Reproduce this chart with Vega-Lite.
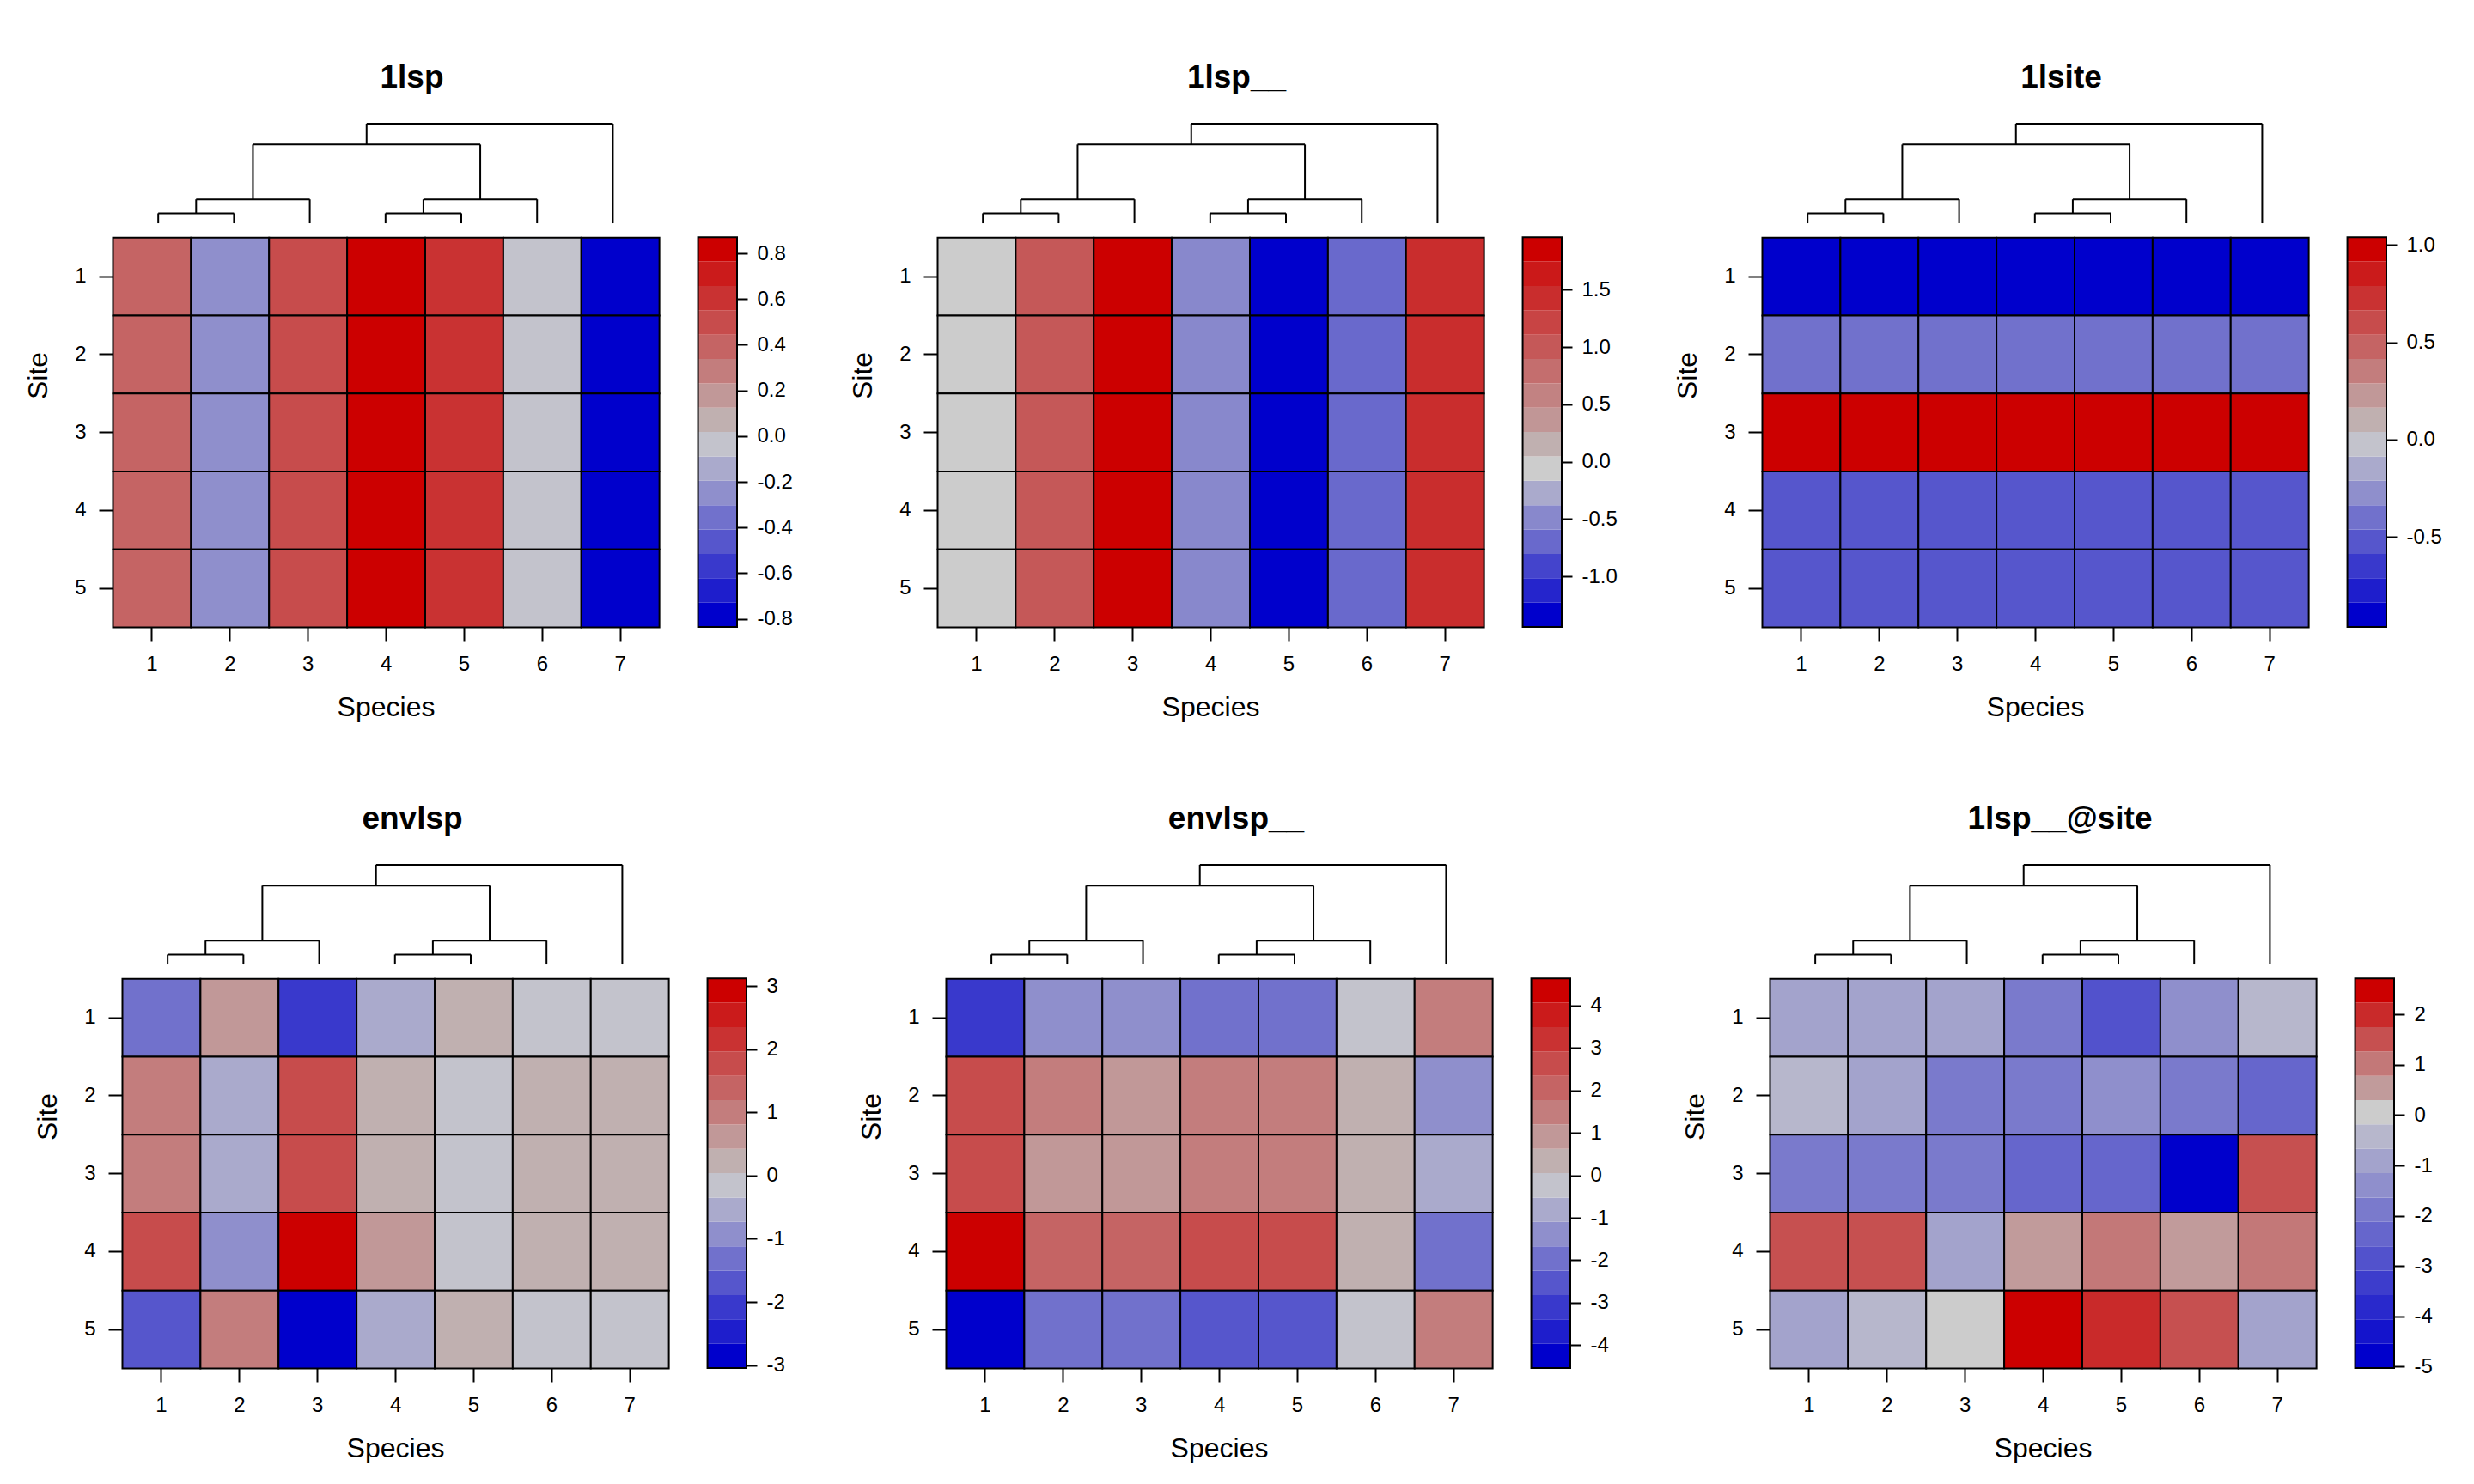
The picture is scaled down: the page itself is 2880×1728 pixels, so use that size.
{
"$schema": "https://vega.github.io/schema/vega-lite/v6.json",
"background": "white",
"padding": {"left": 28, "top": 72, "right": 5, "bottom": 5},
"config": {
 "font": "Liberation Sans",
 "view": {"stroke": null},
 "locale": {"number": {"decimal": ".", "thousands": ",", "grouping": [3], "currency": ["$", ""], "minus": "-"}},
 "axis": {"domain": false, "grid": false, "tickColor": "#000", "tickWidth": 2, "tickSize": 16, "labelFontSize": 24, "labelColor": "#000", "labelPadding": 15, "titleFontSize": 32, "titleFontWeight": "normal", "titleColor": "#000", "labelFont": "Liberation Sans", "titleFont": "Liberation Sans", "labelOverlap": false},
 "axisX": {"titlePadding": 23},
 "axisY": {"titlePadding": 25},
 "title": {"fontSize": 37, "fontWeight": "bold", "font": "Liberation Sans", "color": "#000", "offset": 33},
 "rect": {"binSpacing": 0}
},
"datasets": {
 "dendro": [{"x":1,"x2":1,"h":0,"h2":0.1},{"x":2,"x2":2,"h":0,"h2":0.1},{"x":1,"x2":2,"h":0.1,"h2":0.1},{"x":1.5,"x2":1.5,"h":0.1,"h2":0.24},{"x":3,"x2":3,"h":0,"h2":0.24},{"x":1.5,"x2":3,"h":0.24,"h2":0.24},{"x":2.25,"x2":2.25,"h":0.24,"h2":0.79},{"x":4,"x2":4,"h":0,"h2":0.1},{"x":5,"x2":5,"h":0,"h2":0.1},{"x":4,"x2":5,"h":0.1,"h2":0.1},{"x":4.5,"x2":4.5,"h":0.1,"h2":0.24},{"x":6,"x2":6,"h":0,"h2":0.24},{"x":4.5,"x2":6,"h":0.24,"h2":0.24},{"x":5.25,"x2":5.25,"h":0.24,"h2":0.79},{"x":2.25,"x2":5.25,"h":0.79,"h2":0.79},{"x":3.75,"x2":3.75,"h":0.79,"h2":1},{"x":7,"x2":7,"h":0,"h2":1},{"x":3.75,"x2":7,"h":1,"h2":1}],
 "p1": [
  {"site":1,"sp":1,"v":0.39},{"site":1,"sp":2,"v":-0.25},{"site":1,"sp":3,"v":0.5},{"site":1,"sp":4,"v":0.87},{"site":1,"sp":5,"v":0.6},{"site":1,"sp":6,"v":-0.04},{"site":1,"sp":7,"v":-0.83},
  {"site":2,"sp":1,"v":0.39},{"site":2,"sp":2,"v":-0.25},{"site":2,"sp":3,"v":0.5},{"site":2,"sp":4,"v":0.87},{"site":2,"sp":5,"v":0.6},{"site":2,"sp":6,"v":-0.04},{"site":2,"sp":7,"v":-0.83},
  {"site":3,"sp":1,"v":0.39},{"site":3,"sp":2,"v":-0.25},{"site":3,"sp":3,"v":0.5},{"site":3,"sp":4,"v":0.87},{"site":3,"sp":5,"v":0.6},{"site":3,"sp":6,"v":-0.04},{"site":3,"sp":7,"v":-0.83},
  {"site":4,"sp":1,"v":0.39},{"site":4,"sp":2,"v":-0.25},{"site":4,"sp":3,"v":0.5},{"site":4,"sp":4,"v":0.87},{"site":4,"sp":5,"v":0.6},{"site":4,"sp":6,"v":-0.04},{"site":4,"sp":7,"v":-0.83},
  {"site":5,"sp":1,"v":0.39},{"site":5,"sp":2,"v":-0.25},{"site":5,"sp":3,"v":0.5},{"site":5,"sp":4,"v":0.87},{"site":5,"sp":5,"v":0.6},{"site":5,"sp":6,"v":-0.04},{"site":5,"sp":7,"v":-0.83}],
 "p2": [
  {"site":1,"sp":1,"v":-0.06},{"site":1,"sp":2,"v":1.0},{"site":1,"sp":3,"v":1.95},{"site":1,"sp":4,"v":-0.48},{"site":1,"sp":5,"v":-1.44},{"site":1,"sp":6,"v":-0.7},{"site":1,"sp":7,"v":1.43},
  {"site":2,"sp":1,"v":-0.06},{"site":2,"sp":2,"v":1.0},{"site":2,"sp":3,"v":1.95},{"site":2,"sp":4,"v":-0.48},{"site":2,"sp":5,"v":-1.44},{"site":2,"sp":6,"v":-0.7},{"site":2,"sp":7,"v":1.43},
  {"site":3,"sp":1,"v":-0.06},{"site":3,"sp":2,"v":1.0},{"site":3,"sp":3,"v":1.95},{"site":3,"sp":4,"v":-0.48},{"site":3,"sp":5,"v":-1.44},{"site":3,"sp":6,"v":-0.7},{"site":3,"sp":7,"v":1.43},
  {"site":4,"sp":1,"v":-0.06},{"site":4,"sp":2,"v":1.0},{"site":4,"sp":3,"v":1.95},{"site":4,"sp":4,"v":-0.48},{"site":4,"sp":5,"v":-1.44},{"site":4,"sp":6,"v":-0.7},{"site":4,"sp":7,"v":1.43},
  {"site":5,"sp":1,"v":-0.06},{"site":5,"sp":2,"v":1.0},{"site":5,"sp":3,"v":1.95},{"site":5,"sp":4,"v":-0.48},{"site":5,"sp":5,"v":-1.44},{"site":5,"sp":6,"v":-0.7},{"site":5,"sp":7,"v":1.43}],
 "p3": [
  {"site":1,"sp":1,"v":-0.96},{"site":1,"sp":2,"v":-0.96},{"site":1,"sp":3,"v":-0.96},{"site":1,"sp":4,"v":-0.96},{"site":1,"sp":5,"v":-0.96},{"site":1,"sp":6,"v":-0.96},{"site":1,"sp":7,"v":-0.96},
  {"site":2,"sp":1,"v":-0.4},{"site":2,"sp":2,"v":-0.4},{"site":2,"sp":3,"v":-0.4},{"site":2,"sp":4,"v":-0.4},{"site":2,"sp":5,"v":-0.4},{"site":2,"sp":6,"v":-0.4},{"site":2,"sp":7,"v":-0.4},
  {"site":3,"sp":1,"v":1.03},{"site":3,"sp":2,"v":1.03},{"site":3,"sp":3,"v":1.03},{"site":3,"sp":4,"v":1.03},{"site":3,"sp":5,"v":1.03},{"site":3,"sp":6,"v":1.03},{"site":3,"sp":7,"v":1.03},
  {"site":4,"sp":1,"v":-0.52},{"site":4,"sp":2,"v":-0.52},{"site":4,"sp":3,"v":-0.52},{"site":4,"sp":4,"v":-0.52},{"site":4,"sp":5,"v":-0.52},{"site":4,"sp":6,"v":-0.52},{"site":4,"sp":7,"v":-0.52},
  {"site":5,"sp":1,"v":-0.52},{"site":5,"sp":2,"v":-0.52},{"site":5,"sp":3,"v":-0.52},{"site":5,"sp":4,"v":-0.52},{"site":5,"sp":5,"v":-0.52},{"site":5,"sp":6,"v":-0.52},{"site":5,"sp":7,"v":-0.52}],
 "p4": [
  {"site":1,"sp":1,"v":-1.31},{"site":1,"sp":2,"v":0.62},{"site":1,"sp":3,"v":-2.08},{"site":1,"sp":4,"v":-0.54},{"site":1,"sp":5,"v":0.23},{"site":1,"sp":6,"v":-0.16},{"site":1,"sp":7,"v":-0.16},
  {"site":2,"sp":1,"v":1.0},{"site":2,"sp":2,"v":-0.54},{"site":2,"sp":3,"v":1.77},{"site":2,"sp":4,"v":0.23},{"site":2,"sp":5,"v":-0.16},{"site":2,"sp":6,"v":0.23},{"site":2,"sp":7,"v":0.23},
  {"site":3,"sp":1,"v":1.0},{"site":3,"sp":2,"v":-0.54},{"site":3,"sp":3,"v":1.77},{"site":3,"sp":4,"v":0.23},{"site":3,"sp":5,"v":-0.16},{"site":3,"sp":6,"v":0.23},{"site":3,"sp":7,"v":0.23},
  {"site":4,"sp":1,"v":1.77},{"site":4,"sp":2,"v":-0.93},{"site":4,"sp":3,"v":3.12},{"site":4,"sp":4,"v":0.62},{"site":4,"sp":5,"v":-0.16},{"site":4,"sp":6,"v":0.23},{"site":4,"sp":7,"v":0.23},
  {"site":5,"sp":1,"v":-1.7},{"site":5,"sp":2,"v":1.0},{"site":5,"sp":3,"v":-3.04},{"site":5,"sp":4,"v":-0.54},{"site":5,"sp":5,"v":0.23},{"site":5,"sp":6,"v":-0.16},{"site":5,"sp":7,"v":-0.16}],
 "p5": [
  {"site":1,"sp":1,"v":-3.11},{"site":1,"sp":2,"v":-1.38},{"site":1,"sp":3,"v":-1.38},{"site":1,"sp":4,"v":-1.96},{"site":1,"sp":5,"v":-1.96},{"site":1,"sp":6,"v":-0.24},{"site":1,"sp":7,"v":1.48},
  {"site":2,"sp":1,"v":2.63},{"site":2,"sp":2,"v":1.48},{"site":2,"sp":3,"v":0.91},{"site":2,"sp":4,"v":1.48},{"site":2,"sp":5,"v":1.48},{"site":2,"sp":6,"v":0.34},{"site":2,"sp":7,"v":-1.38},
  {"site":3,"sp":1,"v":2.63},{"site":3,"sp":2,"v":0.91},{"site":3,"sp":3,"v":0.91},{"site":3,"sp":4,"v":1.48},{"site":3,"sp":5,"v":1.48},{"site":3,"sp":6,"v":0.34},{"site":3,"sp":7,"v":-0.81},
  {"site":4,"sp":1,"v":4.64},{"site":4,"sp":2,"v":2.06},{"site":4,"sp":3,"v":2.06},{"site":4,"sp":4,"v":2.63},{"site":4,"sp":5,"v":2.63},{"site":4,"sp":6,"v":0.34},{"site":4,"sp":7,"v":-1.96},
  {"site":5,"sp":1,"v":-4.54},{"site":5,"sp":2,"v":-1.96},{"site":5,"sp":3,"v":-1.96},{"site":5,"sp":4,"v":-2.53},{"site":5,"sp":5,"v":-2.53},{"site":5,"sp":6,"v":-0.24},{"site":5,"sp":7,"v":1.48}],
 "p6": [
  {"site":1,"sp":1,"v":-0.91},{"site":1,"sp":2,"v":-0.91},{"site":1,"sp":3,"v":-0.91},{"site":1,"sp":4,"v":-1.88},{"site":1,"sp":5,"v":-2.85},{"site":1,"sp":6,"v":-1.4},{"site":1,"sp":7,"v":-0.43},
  {"site":2,"sp":1,"v":-0.43},{"site":2,"sp":2,"v":-0.91},{"site":2,"sp":3,"v":-1.88},{"site":2,"sp":4,"v":-1.88},{"site":2,"sp":5,"v":-1.4},{"site":2,"sp":6,"v":-1.88},{"site":2,"sp":7,"v":-2.37},
  {"site":3,"sp":1,"v":-1.88},{"site":3,"sp":2,"v":-1.88},{"site":3,"sp":3,"v":-1.88},{"site":3,"sp":4,"v":-2.37},{"site":3,"sp":5,"v":-2.37},{"site":3,"sp":6,"v":-5.03},{"site":3,"sp":7,"v":1.51},
  {"site":4,"sp":1,"v":1.51},{"site":4,"sp":2,"v":1.51},{"site":4,"sp":3,"v":-0.91},{"site":4,"sp":4,"v":0.54},{"site":4,"sp":5,"v":1.03},{"site":4,"sp":6,"v":0.54},{"site":4,"sp":7,"v":1.03},
  {"site":5,"sp":1,"v":-0.91},{"site":5,"sp":2,"v":-0.43},{"site":5,"sp":3,"v":0.06},{"site":5,"sp":4,"v":2.72},{"site":5,"sp":5,"v":1.99},{"site":5,"sp":6,"v":1.51},{"site":5,"sp":7,"v":-0.91}],
 "l1": [{"lo":-0.835,"hi":-0.7284},{"lo":-0.7284,"hi":-0.6218},{"lo":-0.6218,"hi":-0.5152},{"lo":-0.5152,"hi":-0.4086},{"lo":-0.4086,"hi":-0.302},{"lo":-0.302,"hi":-0.1954},{"lo":-0.1954,"hi":-0.0888},{"lo":-0.0888,"hi":0.0178},{"lo":0.0178,"hi":0.1244},{"lo":0.1244,"hi":0.231},{"lo":0.231,"hi":0.3376},{"lo":0.3376,"hi":0.4442},{"lo":0.4442,"hi":0.5508},{"lo":0.5508,"hi":0.6574},{"lo":0.6574,"hi":0.764},{"lo":0.764,"hi":0.8706}],
 "l2": [{"lo":-1.44,"hi":-1.2276},{"lo":-1.2276,"hi":-1.0152},{"lo":-1.0152,"hi":-0.8028},{"lo":-0.8028,"hi":-0.5904},{"lo":-0.5904,"hi":-0.378},{"lo":-0.378,"hi":-0.1656},{"lo":-0.1656,"hi":0.0468},{"lo":0.0468,"hi":0.2592},{"lo":0.2592,"hi":0.4716},{"lo":0.4716,"hi":0.684},{"lo":0.684,"hi":0.8964},{"lo":0.8964,"hi":1.1088},{"lo":1.1088,"hi":1.3212},{"lo":1.3212,"hi":1.5336},{"lo":1.5336,"hi":1.746},{"lo":1.746,"hi":1.9584}],
 "l3": [{"lo":-0.961,"hi":-0.836},{"lo":-0.836,"hi":-0.711},{"lo":-0.711,"hi":-0.586},{"lo":-0.586,"hi":-0.461},{"lo":-0.461,"hi":-0.336},{"lo":-0.336,"hi":-0.211},{"lo":-0.211,"hi":-0.086},{"lo":-0.086,"hi":0.039},{"lo":0.039,"hi":0.164},{"lo":0.164,"hi":0.289},{"lo":0.289,"hi":0.414},{"lo":0.414,"hi":0.539},{"lo":0.539,"hi":0.664},{"lo":0.664,"hi":0.789},{"lo":0.789,"hi":0.914},{"lo":0.914,"hi":1.039}],
 "l4": [{"lo":-3.045,"hi":-2.6597},{"lo":-2.6597,"hi":-2.2744},{"lo":-2.2744,"hi":-1.8891},{"lo":-1.8891,"hi":-1.5038},{"lo":-1.5038,"hi":-1.1185},{"lo":-1.1185,"hi":-0.7332},{"lo":-0.7332,"hi":-0.3479},{"lo":-0.3479,"hi":0.0374},{"lo":0.0374,"hi":0.4227},{"lo":0.4227,"hi":0.808},{"lo":0.808,"hi":1.1933},{"lo":1.1933,"hi":1.5786},{"lo":1.5786,"hi":1.9639},{"lo":1.9639,"hi":2.3492},{"lo":2.3492,"hi":2.7345},{"lo":2.7345,"hi":3.12}],
 "l5": [{"lo":-4.54,"hi":-3.9662},{"lo":-3.9662,"hi":-3.3924},{"lo":-3.3924,"hi":-2.8186},{"lo":-2.8186,"hi":-2.2448},{"lo":-2.2448,"hi":-1.671},{"lo":-1.671,"hi":-1.0972},{"lo":-1.0972,"hi":-0.5234},{"lo":-0.5234,"hi":0.0504},{"lo":0.0504,"hi":0.6242},{"lo":0.6242,"hi":1.198},{"lo":1.198,"hi":1.7718},{"lo":1.7718,"hi":2.3456},{"lo":2.3456,"hi":2.9194},{"lo":2.9194,"hi":3.4932},{"lo":3.4932,"hi":4.067},{"lo":4.067,"hi":4.64}],
 "l6": [{"lo":-5.03,"hi":-4.5456},{"lo":-4.5456,"hi":-4.0612},{"lo":-4.0612,"hi":-3.5768},{"lo":-3.5768,"hi":-3.0924},{"lo":-3.0924,"hi":-2.608},{"lo":-2.608,"hi":-2.1236},{"lo":-2.1236,"hi":-1.6392},{"lo":-1.6392,"hi":-1.1548},{"lo":-1.1548,"hi":-0.6704},{"lo":-0.6704,"hi":-0.186},{"lo":-0.186,"hi":0.2984},{"lo":0.2984,"hi":0.7828},{"lo":0.7828,"hi":1.2672},{"lo":1.2672,"hi":1.7516},{"lo":1.7516,"hi":2.236},{"lo":2.236,"hi":2.72}]
},
"vconcat": [
{"hconcat": [
 {"width": 727, "height": 586, "title": {"text": "1lsp", "dx": -15},
  "resolve": {"scale": {"x": "independent", "y": "independent"}},
  "layer": [
   {"data": {"name": "p1"}, "mark": {"type": "rect", "stroke": "#000", "strokeWidth": 2},
    "encoding": {
     "x": {"field": "sp", "type": "quantitative", "bin": {"extent": [0.5, 7.5], "step": 1, "nice": false}, "scale": {"domain": [0.5, 8.5], "nice": false, "zero": false}, "axis": {"values": [1,2,3,4,5,6,7], "format": "d", "title": "Species", "titleX": 318}},
     "y": {"field": "site", "type": "quantitative", "bin": {"extent": [0.5, 5.5], "step": 1, "nice": false}, "scale": {"domain": [-0.958, 5.5], "reverse": true, "nice": false, "zero": false}, "axis": {"values": [1,2,3,4,5], "format": "d", "title": "Site", "orient": "left"}},
     "color": {"field": "v", "type": "quantitative", "scale": {"type": "threshold", "domain": [-0.7284,-0.6218,-0.5152,-0.4086,-0.302,-0.1954,-0.0888,0.0178,0.1244,0.231,0.3376,0.4442,0.5508,0.6574,0.764], "range": ["#0000cc","#1e1ecc","#3939cc","#5656cc","#7171cc","#8f8fcc","#aaaacc","#c3c3cc","#c0b0b0","#c19898","#c37d7d","#c56464","#c74c4c","#c93232","#cb1b1b","#cc0000"]}, "legend": null}}},
   {"data": {"name": "dendro"}, "mark": {"type": "rule", "color": "#000", "strokeWidth": 2},
    "encoding": {"x": {"field": "x", "type": "quantitative", "scale": {"domain": [0.397, 8.639], "nice": false, "zero": false}, "axis": null}, "x2": {"field": "x2"}, "y": {"field": "h", "type": "quantitative", "scale": {"domain": [-4.05, 1], "nice": false, "zero": false}, "axis": null}, "y2": {"field": "h2"}}},
   {"layer": [
    {"data": {"name": "l1"}, "mark": {"type": "rect"},
     "encoding": {"x": {"datum": 8, "type": "quantitative", "scale": {"domain": [0.5, 8.5], "nice": false, "zero": false}, "axis": null}, "x2": {"datum": 8.5},
      "y": {"field": "lo", "type": "quantitative", "scale": {"domain": [-0.835, 1.3676], "nice": false, "zero": false}, "axis": {"orient": "right", "values": [-0.8,-0.6,-0.4,-0.2,0,0.2,0.4,0.6,0.8], "format": ".1f", "title": null, "tickSize": 12, "labelPadding": 11}}, "y2": {"field": "hi"},
      "color": {"field": "lo", "type": "quantitative", "scale": {"type": "threshold", "domain": [-0.7284,-0.6218,-0.5152,-0.4086,-0.302,-0.1954,-0.0888,0.0178,0.1244,0.231,0.3376,0.4442,0.5508,0.6574,0.764], "range": ["#0000cc","#1e1ecc","#3939cc","#5656cc","#7171cc","#8f8fcc","#aaaacc","#c3c3cc","#c0b0b0","#c19898","#c37d7d","#c56464","#c74c4c","#c93232","#cb1b1b","#cc0000"]}, "legend": null}}},
    {"data": {"values": [{}]}, "mark": {"type": "rect", "fillOpacity": 0, "stroke": "#000", "strokeWidth": 2},
     "encoding": {"x": {"datum": 8, "type": "quantitative"}, "x2": {"datum": 8.5}, "y": {"datum": -0.835, "type": "quantitative"}, "y2": {"datum": 0.8706}}}
   ]}
  ]},
 {"width": 727, "height": 586, "title": {"text": "1lsp__", "dx": -15},
  "resolve": {"scale": {"x": "independent", "y": "independent"}},
  "layer": [
   {"data": {"name": "p2"}, "mark": {"type": "rect", "stroke": "#000", "strokeWidth": 2},
    "encoding": {
     "x": {"field": "sp", "type": "quantitative", "bin": {"extent": [0.5, 7.5], "step": 1, "nice": false}, "scale": {"domain": [0.5, 8.5], "nice": false, "zero": false}, "axis": {"values": [1,2,3,4,5,6,7], "format": "d", "title": "Species", "titleX": 318}},
     "y": {"field": "site", "type": "quantitative", "bin": {"extent": [0.5, 5.5], "step": 1, "nice": false}, "scale": {"domain": [-0.958, 5.5], "reverse": true, "nice": false, "zero": false}, "axis": {"values": [1,2,3,4,5], "format": "d", "title": "Site", "orient": "left"}},
     "color": {"field": "v", "type": "quantitative", "scale": {"type": "threshold", "domain": [-1.2276,-1.0152,-0.8028,-0.5904,-0.378,-0.1656,0.0468,0.2592,0.4716,0.684,0.8964,1.1088,1.3212,1.5336,1.746], "range": ["#0000cc","#2525cc","#4444cc","#6969cc","#8888cc","#aaaacc","#cccccc","#c0b0b0","#c19696","#c28282","#c46e6e","#c55858","#c84444","#c92d2d","#cb1919","#cc0000"]}, "legend": null}}},
   {"data": {"name": "dendro"}, "mark": {"type": "rule", "color": "#000", "strokeWidth": 2},
    "encoding": {"x": {"field": "x", "type": "quantitative", "scale": {"domain": [0.397, 8.639], "nice": false, "zero": false}, "axis": null}, "x2": {"field": "x2"}, "y": {"field": "h", "type": "quantitative", "scale": {"domain": [-4.05, 1], "nice": false, "zero": false}, "axis": null}, "y2": {"field": "h2"}}},
   {"layer": [
    {"data": {"name": "l2"}, "mark": {"type": "rect"},
     "encoding": {"x": {"datum": 8, "type": "quantitative", "scale": {"domain": [0.5, 8.5], "nice": false, "zero": false}, "axis": null}, "x2": {"datum": 8.5},
      "y": {"field": "lo", "type": "quantitative", "scale": {"domain": [-1.44, 2.9486], "nice": false, "zero": false}, "axis": {"orient": "right", "values": [-1,-0.5,0,0.5,1,1.5], "format": ".1f", "title": null, "tickSize": 12, "labelPadding": 11}}, "y2": {"field": "hi"},
      "color": {"field": "lo", "type": "quantitative", "scale": {"type": "threshold", "domain": [-1.2276,-1.0152,-0.8028,-0.5904,-0.378,-0.1656,0.0468,0.2592,0.4716,0.684,0.8964,1.1088,1.3212,1.5336,1.746], "range": ["#0000cc","#2525cc","#4444cc","#6969cc","#8888cc","#aaaacc","#cccccc","#c0b0b0","#c19696","#c28282","#c46e6e","#c55858","#c84444","#c92d2d","#cb1919","#cc0000"]}, "legend": null}}},
    {"data": {"values": [{}]}, "mark": {"type": "rect", "fillOpacity": 0, "stroke": "#000", "strokeWidth": 2},
     "encoding": {"x": {"datum": 8, "type": "quantitative"}, "x2": {"datum": 8.5}, "y": {"datum": -1.44, "type": "quantitative"}, "y2": {"datum": 1.9584}}}
   ]}
  ]},
 {"width": 727, "height": 586, "title": {"text": "1lsite", "dx": -15},
  "resolve": {"scale": {"x": "independent", "y": "independent"}},
  "layer": [
   {"data": {"name": "p3"}, "mark": {"type": "rect", "stroke": "#000", "strokeWidth": 2},
    "encoding": {
     "x": {"field": "sp", "type": "quantitative", "bin": {"extent": [0.5, 7.5], "step": 1, "nice": false}, "scale": {"domain": [0.5, 8.5], "nice": false, "zero": false}, "axis": {"values": [1,2,3,4,5,6,7], "format": "d", "title": "Species", "titleX": 318}},
     "y": {"field": "site", "type": "quantitative", "bin": {"extent": [0.5, 5.5], "step": 1, "nice": false}, "scale": {"domain": [-0.958, 5.5], "reverse": true, "nice": false, "zero": false}, "axis": {"values": [1,2,3,4,5], "format": "d", "title": "Site", "orient": "left"}},
     "color": {"field": "v", "type": "quantitative", "scale": {"type": "threshold", "domain": [-0.836,-0.711,-0.586,-0.461,-0.336,-0.211,-0.086,0.039,0.164,0.289,0.414,0.539,0.664,0.789,0.914], "range": ["#0000cc","#1e1ecc","#3939cc","#5656cc","#7171cc","#8f8fcc","#aaaacc","#c3c3cc","#c0b0b0","#c19898","#c37d7d","#c56464","#c74c4c","#c93232","#cb1b1b","#cc0000"]}, "legend": null}}},
   {"data": {"name": "dendro"}, "mark": {"type": "rule", "color": "#000", "strokeWidth": 2},
    "encoding": {"x": {"field": "x", "type": "quantitative", "scale": {"domain": [0.397, 8.639], "nice": false, "zero": false}, "axis": null}, "x2": {"field": "x2"}, "y": {"field": "h", "type": "quantitative", "scale": {"domain": [-4.05, 1], "nice": false, "zero": false}, "axis": null}, "y2": {"field": "h2"}}},
   {"layer": [
    {"data": {"name": "l3"}, "mark": {"type": "rect"},
     "encoding": {"x": {"datum": 8, "type": "quantitative", "scale": {"domain": [0.5, 8.5], "nice": false, "zero": false}, "axis": null}, "x2": {"datum": 8.5},
      "y": {"field": "lo", "type": "quantitative", "scale": {"domain": [-0.961, 1.6218], "nice": false, "zero": false}, "axis": {"orient": "right", "values": [-0.5,0,0.5,1], "format": ".1f", "title": null, "tickSize": 12, "labelPadding": 11}}, "y2": {"field": "hi"},
      "color": {"field": "lo", "type": "quantitative", "scale": {"type": "threshold", "domain": [-0.836,-0.711,-0.586,-0.461,-0.336,-0.211,-0.086,0.039,0.164,0.289,0.414,0.539,0.664,0.789,0.914], "range": ["#0000cc","#1e1ecc","#3939cc","#5656cc","#7171cc","#8f8fcc","#aaaacc","#c3c3cc","#c0b0b0","#c19898","#c37d7d","#c56464","#c74c4c","#c93232","#cb1b1b","#cc0000"]}, "legend": null}}},
    {"data": {"values": [{}]}, "mark": {"type": "rect", "fillOpacity": 0, "stroke": "#000", "strokeWidth": 2},
     "encoding": {"x": {"datum": 8, "type": "quantitative"}, "x2": {"datum": 8.5}, "y": {"datum": -0.961, "type": "quantitative"}, "y2": {"datum": 1.039}}}
   ]}
  ]}
 ], "spacing": 233, "bounds": "flush", "resolve": {"scale": {"color": "independent"}}},
{"hconcat": [
 {"width": 738, "height": 586, "title": {"text": "envlsp", "dx": -20},
  "resolve": {"scale": {"x": "independent", "y": "independent"}},
  "layer": [
   {"data": {"name": "p4"}, "mark": {"type": "rect", "stroke": "#000", "strokeWidth": 2},
    "encoding": {
     "x": {"field": "sp", "type": "quantitative", "bin": {"extent": [0.5, 7.5], "step": 1, "nice": false}, "scale": {"domain": [0.379, 8.5], "nice": false, "zero": false}, "axis": {"values": [1,2,3,4,5,6,7], "format": "d", "title": "Species", "titleX": 329}},
     "y": {"field": "site", "type": "quantitative", "bin": {"extent": [0.5, 5.5], "step": 1, "nice": false}, "scale": {"domain": [-0.958, 5.5], "reverse": true, "nice": false, "zero": false}, "axis": {"values": [1,2,3,4,5], "format": "d", "title": "Site", "orient": "left", "offset": -11}},
     "color": {"field": "v", "type": "quantitative", "scale": {"type": "threshold", "domain": [-2.6597,-2.2744,-1.8891,-1.5038,-1.1185,-0.7332,-0.3479,0.0374,0.4227,0.808,1.1933,1.5786,1.9639,2.3492,2.7345], "range": ["#0000cc","#1e1ecc","#3939cc","#5656cc","#7171cc","#8f8fcc","#aaaacc","#c3c3cc","#c0b0b0","#c19898","#c37d7d","#c56464","#c74c4c","#c93232","#cb1b1b","#cc0000"]}, "legend": null}}},
   {"data": {"name": "dendro"}, "mark": {"type": "rule", "color": "#000", "strokeWidth": 2},
    "encoding": {"x": {"field": "x", "type": "quantitative", "scale": {"domain": [0.273, 8.639], "nice": false, "zero": false}, "axis": null}, "x2": {"field": "x2"}, "y": {"field": "h", "type": "quantitative", "scale": {"domain": [-4.05, 1], "nice": false, "zero": false}, "axis": null}, "y2": {"field": "h2"}}},
   {"layer": [
    {"data": {"name": "l4"}, "mark": {"type": "rect"},
     "encoding": {"x": {"datum": 8, "type": "quantitative", "scale": {"domain": [0.379, 8.5], "nice": false, "zero": false}, "axis": null}, "x2": {"datum": 8.5},
      "y": {"field": "lo", "type": "quantitative", "scale": {"domain": [-3.045, 4.9164], "nice": false, "zero": false}, "axis": {"orient": "right", "values": [-3,-2,-1,0,1,2,3], "format": "d", "title": null, "tickSize": 12, "labelPadding": 11}}, "y2": {"field": "hi"},
      "color": {"field": "lo", "type": "quantitative", "scale": {"type": "threshold", "domain": [-2.6597,-2.2744,-1.8891,-1.5038,-1.1185,-0.7332,-0.3479,0.0374,0.4227,0.808,1.1933,1.5786,1.9639,2.3492,2.7345], "range": ["#0000cc","#1e1ecc","#3939cc","#5656cc","#7171cc","#8f8fcc","#aaaacc","#c3c3cc","#c0b0b0","#c19898","#c37d7d","#c56464","#c74c4c","#c93232","#cb1b1b","#cc0000"]}, "legend": null}}},
    {"data": {"values": [{}]}, "mark": {"type": "rect", "fillOpacity": 0, "stroke": "#000", "strokeWidth": 2},
     "encoding": {"x": {"datum": 8, "type": "quantitative"}, "x2": {"datum": 8.5}, "y": {"datum": -3.045, "type": "quantitative"}, "y2": {"datum": 3.12}}}
   ]}
  ]},
 {"width": 738, "height": 586, "title": {"text": "envlsp__", "dx": -20},
  "resolve": {"scale": {"x": "independent", "y": "independent"}},
  "layer": [
   {"data": {"name": "p5"}, "mark": {"type": "rect", "stroke": "#000", "strokeWidth": 2},
    "encoding": {
     "x": {"field": "sp", "type": "quantitative", "bin": {"extent": [0.5, 7.5], "step": 1, "nice": false}, "scale": {"domain": [0.379, 8.5], "nice": false, "zero": false}, "axis": {"values": [1,2,3,4,5,6,7], "format": "d", "title": "Species", "titleX": 329}},
     "y": {"field": "site", "type": "quantitative", "bin": {"extent": [0.5, 5.5], "step": 1, "nice": false}, "scale": {"domain": [-0.958, 5.5], "reverse": true, "nice": false, "zero": false}, "axis": {"values": [1,2,3,4,5], "format": "d", "title": "Site", "orient": "left", "offset": -11}},
     "color": {"field": "v", "type": "quantitative", "scale": {"type": "threshold", "domain": [-3.9662,-3.3924,-2.8186,-2.2448,-1.671,-1.0972,-0.5234,0.0504,0.6242,1.198,1.7718,2.3456,2.9194,3.4932,4.067], "range": ["#0000cc","#1e1ecc","#3939cc","#5656cc","#7171cc","#8f8fcc","#aaaacc","#c3c3cc","#c0b0b0","#c19898","#c37d7d","#c56464","#c74c4c","#c93232","#cb1b1b","#cc0000"]}, "legend": null}}},
   {"data": {"name": "dendro"}, "mark": {"type": "rule", "color": "#000", "strokeWidth": 2},
    "encoding": {"x": {"field": "x", "type": "quantitative", "scale": {"domain": [0.273, 8.639], "nice": false, "zero": false}, "axis": null}, "x2": {"field": "x2"}, "y": {"field": "h", "type": "quantitative", "scale": {"domain": [-4.05, 1], "nice": false, "zero": false}, "axis": null}, "y2": {"field": "h2"}}},
   {"layer": [
    {"data": {"name": "l5"}, "mark": {"type": "rect"},
     "encoding": {"x": {"datum": 8, "type": "quantitative", "scale": {"domain": [0.379, 8.5], "nice": false, "zero": false}, "axis": null}, "x2": {"datum": 8.5},
      "y": {"field": "lo", "type": "quantitative", "scale": {"domain": [-4.54, 7.3149], "nice": false, "zero": false}, "axis": {"orient": "right", "values": [-4,-3,-2,-1,0,1,2,3,4], "format": "d", "title": null, "tickSize": 12, "labelPadding": 11}}, "y2": {"field": "hi"},
      "color": {"field": "lo", "type": "quantitative", "scale": {"type": "threshold", "domain": [-3.9662,-3.3924,-2.8186,-2.2448,-1.671,-1.0972,-0.5234,0.0504,0.6242,1.198,1.7718,2.3456,2.9194,3.4932,4.067], "range": ["#0000cc","#1e1ecc","#3939cc","#5656cc","#7171cc","#8f8fcc","#aaaacc","#c3c3cc","#c0b0b0","#c19898","#c37d7d","#c56464","#c74c4c","#c93232","#cb1b1b","#cc0000"]}, "legend": null}}},
    {"data": {"values": [{}]}, "mark": {"type": "rect", "fillOpacity": 0, "stroke": "#000", "strokeWidth": 2},
     "encoding": {"x": {"datum": 8, "type": "quantitative"}, "x2": {"datum": 8.5}, "y": {"datum": -4.54, "type": "quantitative"}, "y2": {"datum": 4.64}}}
   ]}
  ]},
 {"width": 738, "height": 586, "title": {"text": "1lsp__@site", "dx": -20},
  "resolve": {"scale": {"x": "independent", "y": "independent"}},
  "layer": [
   {"data": {"name": "p6"}, "mark": {"type": "rect", "stroke": "#000", "strokeWidth": 2},
    "encoding": {
     "x": {"field": "sp", "type": "quantitative", "bin": {"extent": [0.5, 7.5], "step": 1, "nice": false}, "scale": {"domain": [0.379, 8.5], "nice": false, "zero": false}, "axis": {"values": [1,2,3,4,5,6,7], "format": "d", "title": "Species", "titleX": 329}},
     "y": {"field": "site", "type": "quantitative", "bin": {"extent": [0.5, 5.5], "step": 1, "nice": false}, "scale": {"domain": [-0.958, 5.5], "reverse": true, "nice": false, "zero": false}, "axis": {"values": [1,2,3,4,5], "format": "d", "title": "Site", "orient": "left", "offset": -11}},
     "color": {"field": "v", "type": "quantitative", "scale": {"type": "threshold", "domain": [-4.5456,-4.0612,-3.5768,-3.0924,-2.608,-2.1236,-1.6392,-1.1548,-0.6704,-0.186,0.2984,0.7828,1.2672,1.7516,2.236], "range": ["#0000cc","#1414cc","#2929cc","#3d3dcc","#5252cc","#6666cc","#7a7acc","#8f8fcc","#a3a3cc","#b7b7cc","#cccccc","#c19b9b","#c37878","#c65050","#c92a2a","#cc0000"]}, "legend": null}}},
   {"data": {"name": "dendro"}, "mark": {"type": "rule", "color": "#000", "strokeWidth": 2},
    "encoding": {"x": {"field": "x", "type": "quantitative", "scale": {"domain": [0.273, 8.639], "nice": false, "zero": false}, "axis": null}, "x2": {"field": "x2"}, "y": {"field": "h", "type": "quantitative", "scale": {"domain": [-4.05, 1], "nice": false, "zero": false}, "axis": null}, "y2": {"field": "h2"}}},
   {"layer": [
    {"data": {"name": "l6"}, "mark": {"type": "rect"},
     "encoding": {"x": {"datum": 8, "type": "quantitative", "scale": {"domain": [0.379, 8.5], "nice": false, "zero": false}, "axis": null}, "x2": {"datum": 8.5},
      "y": {"field": "lo", "type": "quantitative", "scale": {"domain": [-5.03, 4.9782], "nice": false, "zero": false}, "axis": {"orient": "right", "values": [-5,-4,-3,-2,-1,0,1,2], "format": "d", "title": null, "tickSize": 12, "labelPadding": 11}}, "y2": {"field": "hi"},
      "color": {"field": "lo", "type": "quantitative", "scale": {"type": "threshold", "domain": [-4.5456,-4.0612,-3.5768,-3.0924,-2.608,-2.1236,-1.6392,-1.1548,-0.6704,-0.186,0.2984,0.7828,1.2672,1.7516,2.236], "range": ["#0000cc","#1414cc","#2929cc","#3d3dcc","#5252cc","#6666cc","#7a7acc","#8f8fcc","#a3a3cc","#b7b7cc","#cccccc","#c19b9b","#c37878","#c65050","#c92a2a","#cc0000"]}, "legend": null}}},
    {"data": {"values": [{}]}, "mark": {"type": "rect", "fillOpacity": 0, "stroke": "#000", "strokeWidth": 2},
     "encoding": {"x": {"datum": 8, "type": "quantitative"}, "x2": {"datum": 8.5}, "y": {"datum": -5.03, "type": "quantitative"}, "y2": {"datum": 2.72}}}
   ]}
  ]}
 ], "spacing": 221, "bounds": "flush", "resolve": {"scale": {"color": "independent"}}}
],
"spacing": 863, "bounds": "flush", "resolve": {"scale": {"color": "independent"}}
}
